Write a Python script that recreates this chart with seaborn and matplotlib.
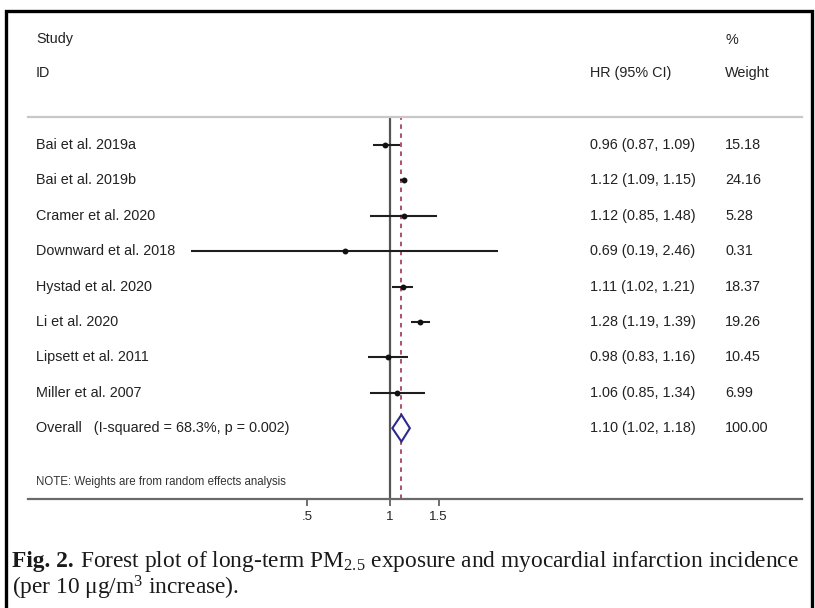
import numpy as np
import pandas as pd
import matplotlib
matplotlib.use("Agg")
import matplotlib.pyplot as plt
import seaborn as sns
from matplotlib.patches import Rectangle, Polygon

# data
studies = ["Bai et al. 2019a", "Bai et al. 2019b", "Cramer et al. 2020",
           "Downward et al. 2018", "Hystad et al. 2020", "Li et al. 2020",
           "Lipsett et al. 2011", "Miller et al. 2007"]
hr = [0.96, 1.12, 1.12, 0.69, 1.11, 1.28, 0.98, 1.06]
ci_low = [0.87, 1.09, 0.85, 0.19, 1.02, 1.19, 0.83, 0.85]
ci_high = [1.09, 1.15, 1.48, 2.46, 1.21, 1.39, 1.16, 1.34]
weights = [15.18, 24.16, 5.28, 0.31, 18.37, 19.26, 10.45, 6.99]
overall_label = "Overall   (I-squared = 68.3%, p = 0.002)"
overall_hr, overall_low, overall_high, overall_weight = 1.10, 1.02, 1.18, 100.00
x_ticks = [0.5, 1, 1.5]
x_ticklabels = [".5", "1", "1.5"]

df = pd.DataFrame({"study": studies, "hr": hr, "lo": ci_low, "hi": ci_high,
                   "w": weights})
df["row"] = np.arange(len(df))

sns.set_style("white")
plt.rcParams["font.family"] = ["Liberation Sans", "DejaVu Sans"]
plt.rcParams["mathtext.fontset"] = "custom"
plt.rcParams["mathtext.rm"] = "Liberation Serif"
plt.rcParams["mathtext.bf"] = "Liberation Serif:bold"
plt.rcParams["mathtext.it"] = "Liberation Serif:italic"

W, H = 815, 608
fig = plt.figure(figsize=(W / 100, H / 100), dpi=100)


def fx(x):
    return x / W


def fy(y):
    return 1 - y / H


# plot area in pixels
left, right, top, bottom = 28, 802, 117, 499
ax = fig.add_axes([fx(left), fy(bottom), fx(right) - fx(left), fy(top) - fy(bottom)])

px_per_ln = 120.0
x_null = 390
ax.set_xscale("log")
ax.set_xlim(np.exp((left - x_null) / px_per_ln), np.exp((right - x_null) / px_per_ln))
row0, row_step = 145, 35.4
ax.set_ylim((bottom - row0) / row_step, (top - row0) / row_step)

# CI lines and point estimates
ax.hlines(df["row"], df["lo"], df["hi"], color="#1e1e1e", lw=1.5, zorder=3)
sns.scatterplot(data=df, x="hr", y="row", ax=ax, color="#111111", s=18,
                edgecolor="#111111", linewidth=0, zorder=4, legend=False)

# null line and overall dashed line
ax.axvline(1, color="#555555", lw=1.6, zorder=2)
ax.axvline(overall_hr, color="#a4445e", lw=1.3, ls=(0, (2.5, 2.5)), zorder=2)

# overall diamond
orow = len(df)
dh = 0.38
diamond = Polygon([[overall_low, orow], [overall_hr, orow - dh],
                   [overall_high, orow], [overall_hr, orow + dh]],
                  closed=True, fill=True, facecolor="white",
                  edgecolor="#2b2b8c", lw=1.5, zorder=5)
ax.add_patch(diamond)

# axes styling
for s in ["left", "right"]:
    ax.spines[s].set_visible(False)
ax.spines["top"].set_color("#c8c8c8")
ax.spines["top"].set_linewidth(1.6)
ax.spines["bottom"].set_color("#6a6a6a")
ax.spines["bottom"].set_linewidth(1.6)
ax.set_yticks([])
ax.set_xticks(x_ticks)
ax.set_xticklabels(x_ticklabels)
ax.xaxis.set_minor_locator(matplotlib.ticker.NullLocator())
ax.tick_params(axis="x", bottom=True, length=5, width=1.2, color="#555555",
               labelsize=9.5, pad=4, labelcolor="#222222")
ax.set_xlabel("")
ax.set_ylabel("")

# text columns
txt = dict(fontsize=10.4, color="#222222", va="center", transform=fig.transFigure)
fig.text(fx(36), fy(39), "Study", **txt)
fig.text(fx(36), fy(73), "ID", **txt)
fig.text(fx(590), fy(73), "HR (95% CI)", **txt)
fig.text(fx(725), fy(40), "%", **txt)
fig.text(fx(725), fy(73), "Weight", **txt)

for i, r in df.iterrows():
    y = row0 + row_step * i
    fig.text(fx(36), fy(y), r["study"], **txt)
    fig.text(fx(590), fy(y), f"{r['hr']:.2f} ({r['lo']:.2f}, {r['hi']:.2f})", **txt)
    fig.text(fx(725), fy(y), f"{r['w']:.2f}", **txt)

y = row0 + row_step * orow
fig.text(fx(36), fy(y), overall_label, **txt)
fig.text(fx(590), fy(y), f"{overall_hr:.2f} ({overall_low:.2f}, {overall_high:.2f})", **txt)
fig.text(fx(725), fy(y), f"{overall_weight:.2f}", **txt)

fig.text(fx(36), fy(482), "NOTE: Weights are from random effects analysis",
         fontsize=8.3, color="#333333", va="center")

# caption: bold "Fig. 2." then the rest placed right after it
cap = dict(fontsize=16.8, color="#1a1a1a", va="baseline", family="Liberation Serif")
t1 = fig.text(fx(12), fy(567), "Fig. 2.", fontweight="bold", **cap)
fig.canvas.draw()
bb = t1.get_window_extent()
fig.text((bb.x1 + 6) / W, fy(567),
         r"Forest plot of long-term PM$_{2.5}$ exposure and myocardial infarction incidence",
         **cap)
fig.text(fx(12), fy(595), r"(per 10 $\mathrm{\mu}$g/m$^{3}$ increase).", **cap)

# outer frame
fig.patches.append(Rectangle((fx(6), fy(640)), fx(812) - fx(6), fy(11) - fy(640),
                             transform=fig.transFigure, fill=False,
                             edgecolor="black", lw=2.4, clip_on=False))

fig.savefig("out.png", dpi=100)
